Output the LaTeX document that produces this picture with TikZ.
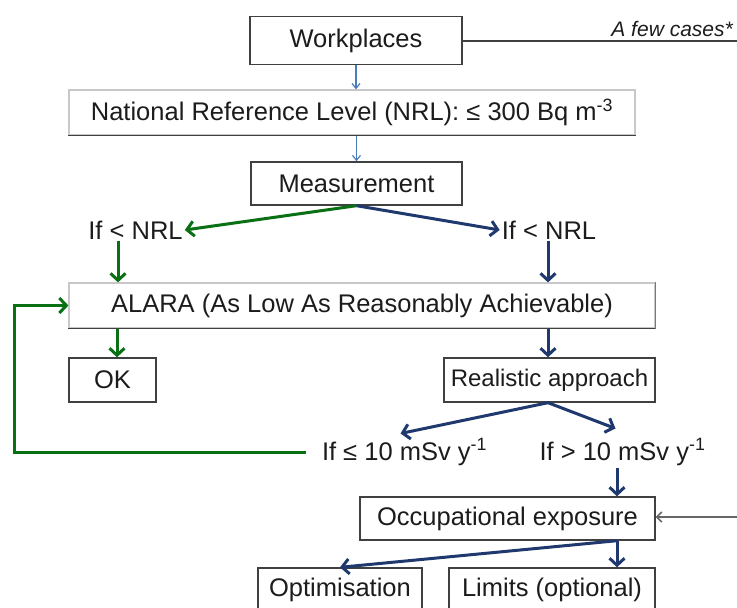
\documentclass[tikz,border=0pt]{standalone}
\usepackage{fontspec}
\setmainfont{Liberation Sans}
\usetikzlibrary{arrows.meta,calc}
\definecolor{grn}{RGB}{10,112,20}
\definecolor{nvy}{RGB}{31,56,110}
\definecolor{lblu}{RGB}{74,126,187}
\definecolor{frame}{RGB}{64,64,64}
\definecolor{lframe}{RGB}{200,200,200}
\definecolor{txt}{RGB}{28,28,28}
\tikzset{
  box/.style={draw=frame, line width=1.4pt, fill=white, inner sep=0pt, text=txt, font=\fontsize{25.5}{29}\selectfont},
  softbox/.style={draw=lframe, line width=1.2pt, fill=white, inner sep=0pt, text=txt, font=\fontsize{25.5}{29}\selectfont},
  lbl/.style={inner sep=2pt, text=txt, font=\fontsize{25.5}{29}\selectfont},
  garr/.style={draw=grn, line width=3pt, -{Straight Barb[length=7pt,width=15pt]}},
  barr/.style={draw=nvy, line width=3pt, -{Straight Barb[length=7pt,width=15pt]}},
  thinarr/.style={draw=lblu, line width=1.2pt, -{Straight Barb[length=5pt,width=8pt]}},
  grayarr/.style={draw=frame!80, line width=1.6pt, -{Straight Barb[length=5pt,width=10pt]}},
  darkedge/.style={draw=frame, line width=1.6pt}
}
\begin{document}
\begin{tikzpicture}[x=1pt,y=-1pt]
\useasboundingbox (0,0) rectangle (737,608);
\clip (0,0) rectangle (737,608);
% boxes
\node[box, minimum width=212pt, minimum height=48pt] (work) at (356,40.5) {Workplaces};
\node[softbox, minimum width=566pt, minimum height=45pt] (nrl) at (352,112.5) {National Reference Level (NRL): ≤ 300 Bq m\textsuperscript{-3}};
\draw[darkedge] (nrl.south west) -- (nrl.south east);
\node[box, minimum width=211pt, minimum height=43pt] (meas) at (356.5,183.5) {Measurement};
\node[lbl] (ifl) at (135.5,230) {If < NRL};
\node[lbl] (ifr) at (549,230) {If < NRL};
\node[softbox, minimum width=586pt, minimum height=45pt] (alara) at (362,305.5) {ALARA (As Low As Reasonably Achievable)};
\draw[darkedge] (alara.south west) -- (alara.south east);
\draw[draw=frame!70, line width=1.4pt] (alara.south east) -- (alara.north east);
\node[box, minimum width=87pt, minimum height=44pt] (ok) at (112.5,380) {OK};
\node[box, minimum width=211pt, minimum height=44pt, font=\fontsize{24}{28}\selectfont] (real) at (549.5,380) {Realistic approach};
\node[lbl] (ifa) at (404.5,452) {If ≤ 10 mSv y\textsuperscript{-1}};
\node[lbl] (ifb) at (622.5,452) {If > 10 mSv y\textsuperscript{-1}};
\node[box, minimum width=295pt, minimum height=43pt] (occ) at (507.5,518.5) {Occupational exposure};
\node[box, minimum width=164pt, minimum height=44pt] (opt) at (340,590) {Optimisation};
\node[box, minimum width=206pt, minimum height=44pt] (lim) at (552,590) {Limits (optional)};
% side line
\coordinate (rout) at (737,41);
\coordinate (rin) at (737,517);
\draw[draw=frame, line width=1.6pt] (work.east |- rout) -- (rout);
\node[inner sep=0pt, anchor=south east, text=txt, font=\fontsize{21}{24}\selectfont\itshape] (cases) at (733,37) {A few cases*};
\draw[grayarr] (rin) -- (occ.east |- rin);
% thin blue arrows
\draw[thinarr] (work.south) -- (work.south |- nrl.north);
\draw[thinarr] (meas.north |- nrl.south) -- (meas.north);
% measurement split
\draw[garr] (meas.south) -- (ifl.east);
\draw[barr] (meas.south) -- (ifr.west);
\draw[garr] (ifl.south -| 118,0) -- (alara.north -| 118,0);
\draw[barr] (ifr.south -| 548,0) -- (alara.north -| 548,0);
\draw[garr] (alara.south -| 117,0) -- (ok.north -| 117,0);
\draw[barr] (alara.south -| 548,0) -- (real.north -| 548,0);
% realistic split
\draw[barr] (real.south -| 548,0) -- ($(ifa.north)+(-4,-3)$);
\draw[barr] (real.south -| 548,0) -- ($(ifb.north)+(-7,-8)$);
\draw[garr] ($(ifa.west)+(-14,0)$) -- (14,452) |- (alara.west);
\draw[barr] (ifb.south -| 617,0) -- (occ.north -| 617,0);
% occupational split
\draw[barr] (occ.south -| 617,0) -- (opt.north);
\draw[barr] (occ.south -| 617,0) -- (lim.north -| 617,0);
\end{tikzpicture}
\end{document}
